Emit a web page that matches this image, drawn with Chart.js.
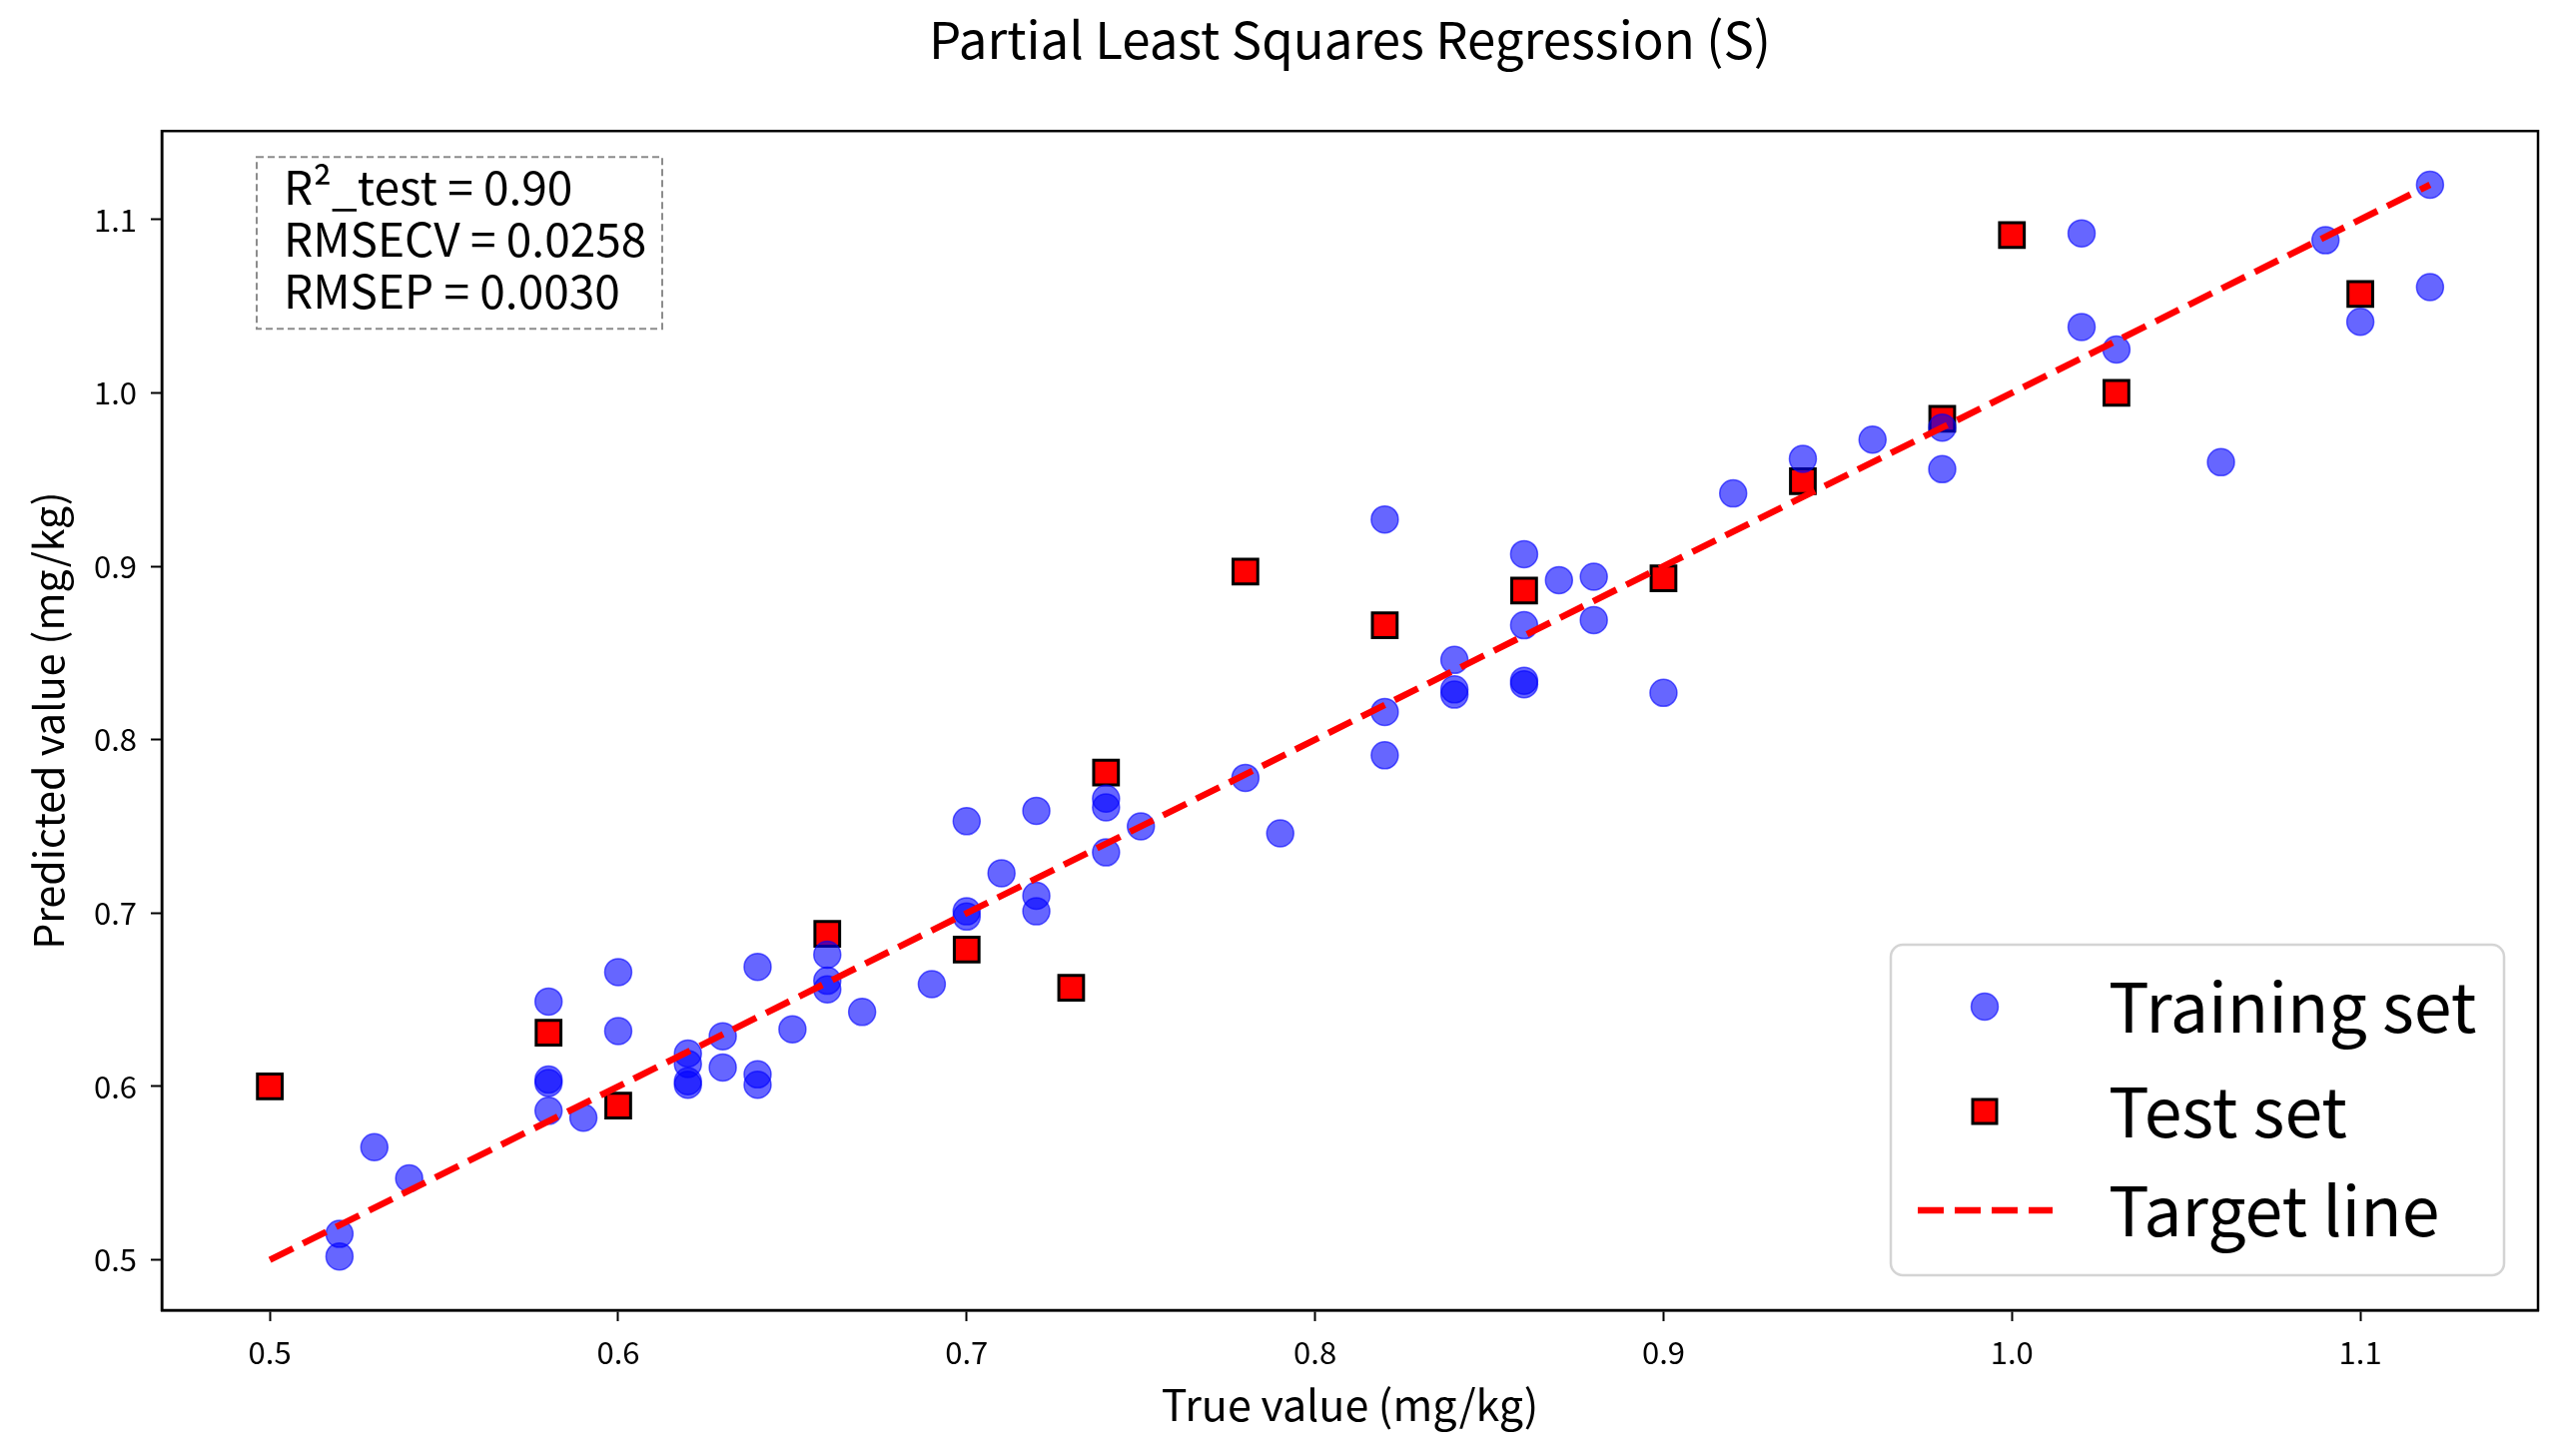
<!DOCTYPE html>
<html>
<head>
<meta charset="utf-8">
<title>Partial Least Squares Regression (S)</title>
<script src="https://cdn.jsdelivr.net/npm/chart.js@4.4.1/dist/chart.umd.min.js"></script>
<style>
  html, body { margin: 0; padding: 0; background: #fff; }
  #wrap { width: 2566px; height: 1458px; }
</style>
</head>
<body>
<div id="wrap"><canvas id="plsChart"></canvas></div>
<script>
// values
const trainTrue = [0.52, 0.52, 0.53, 0.54, 0.58, 0.58, 0.58, 0.58, 0.59, 0.60, 0.60,
  0.62, 0.62, 0.62, 0.62, 0.63, 0.63, 0.64, 0.64, 0.64, 0.65, 0.66, 0.66, 0.66, 0.67,
  0.69, 0.70, 0.70, 0.70, 0.71, 0.72, 0.72, 0.72, 0.74, 0.74, 0.74, 0.75, 0.78, 0.79,
  0.82, 0.82, 0.82, 0.84, 0.84, 0.84, 0.86, 0.86, 0.86, 0.86, 0.87, 0.88, 0.88, 0.90,
  0.92, 0.94, 0.96, 0.98, 0.98, 1.02, 1.02, 1.03, 1.06, 1.09, 1.10, 1.12, 1.12];
const trainPred = [0.515, 0.502, 0.565, 0.547, 0.649, 0.604, 0.602, 0.586, 0.582, 0.666, 0.632,
  0.619, 0.613, 0.603, 0.601, 0.629, 0.611, 0.669, 0.607, 0.601, 0.633, 0.676, 0.661, 0.656, 0.643,
  0.659, 0.753, 0.701, 0.698, 0.723, 0.759, 0.710, 0.701, 0.766, 0.761, 0.735, 0.750, 0.778, 0.746,
  0.927, 0.816, 0.791, 0.846, 0.829, 0.826, 0.907, 0.866, 0.834, 0.832, 0.892, 0.894, 0.869, 0.827,
  0.942, 0.962, 0.973, 0.980, 0.956, 1.092, 1.038, 1.025, 0.960, 1.088, 1.041, 1.120, 1.061];
const testTrue = [0.50, 0.58, 0.60, 0.66, 0.70, 0.73, 0.74, 0.78, 0.82, 0.86, 0.90, 0.94, 0.98, 1.00, 1.03, 1.10];
const testPred = [0.600, 0.631, 0.589, 0.688, 0.679, 0.657, 0.781, 0.897, 0.866, 0.886, 0.893, 0.949, 0.985, 1.091, 1.000, 1.057];
const targetEnds = [0.50, 1.12];
const axisTicks = [0.5, 0.6, 0.7, 0.8, 0.9, 1.0, 1.1];
const statLines = ['R\u00b2_test = 0.90', 'RMSECV = 0.0258', 'RMSEP = 0.0030'];
const seriesNames = ['Training set', 'Test set', 'Target line'];

const FONT = '"Noto Sans CJK SC", "Noto Sans", sans-serif';

const toPoints = (xs, ys) => xs.map((x, i) => ({ x, y: ys[i] }));

// frame, dashed stats box in the top-left corner and legend in the bottom-right
const overlayPlugin = {
  id: 'overlay',
  afterDraw(chart) {
    const { ctx, chartArea: a } = chart;
    ctx.save();

    ctx.strokeStyle = '#000';
    ctx.lineWidth = 2.5;
    ctx.setLineDash([]);
    ctx.strokeRect(a.left, a.top, a.right - a.left, a.bottom - a.top);

    // stats box
    const bx = a.left + 95, by = a.top + 26, bw = 406, bh = 172;
    ctx.fillStyle = 'rgba(255,255,255,0.8)';
    ctx.fillRect(bx, by, bw, bh);
    ctx.setLineDash([7, 4]);
    ctx.strokeStyle = '#8c8c8c';
    ctx.lineWidth = 2;
    ctx.strokeRect(bx, by, bw, bh);
    ctx.setLineDash([]);
    ctx.fillStyle = '#000';
    ctx.font = '46px ' + FONT;
    ctx.textBaseline = 'alphabetic';
    ctx.textAlign = 'left';
    statLines.forEach((t, i) => ctx.fillText(t, bx + 27, by + 48 + i * 52));

    // legend
    const lw = 614, lh = 331;
    const lx = a.right - 34 - lw, ly = a.bottom - 35 - lh;
    ctx.fillStyle = 'rgba(255,255,255,0.8)';
    ctx.strokeStyle = '#d4d4d4';
    ctx.lineWidth = 2.5;
    ctx.beginPath();
    ctx.roundRect(lx, ly, lw, lh, 12);
    ctx.fill();
    ctx.stroke();

    const mx = lx + 94;
    const rows = [ly + 62, ly + 167, ly + 266];
    const ds = chart.data.datasets;
    // training marker
    ctx.beginPath();
    ctx.arc(mx, rows[0], 13.5, 0, Math.PI * 2);
    ctx.fillStyle = ds[1].backgroundColor;
    ctx.fill();
    ctx.lineWidth = ds[1].borderWidth;
    ctx.strokeStyle = ds[1].borderColor;
    ctx.stroke();
    // test marker
    ctx.fillStyle = ds[2].backgroundColor;
    ctx.fillRect(mx - 12, rows[1] - 12, 24, 24);
    ctx.lineWidth = ds[2].borderWidth;
    ctx.strokeStyle = ds[2].borderColor;
    ctx.strokeRect(mx - 12, rows[1] - 12, 24, 24);
    // target line
    ctx.beginPath();
    ctx.setLineDash(ds[0].borderDash);
    ctx.lineWidth = ds[0].borderWidth;
    ctx.strokeStyle = ds[0].borderColor;
    ctx.moveTo(mx - 67, rows[2]);
    ctx.lineTo(mx + 68, rows[2]);
    ctx.stroke();
    ctx.setLineDash([]);

    ctx.fillStyle = '#000';
    ctx.font = '68px ' + FONT;
    ctx.textBaseline = 'middle';
    seriesNames.forEach((n, i) => ctx.fillText(n, lx + 218, rows[i]));
    ctx.restore();
  }
};

new Chart(document.getElementById('plsChart'), {
  type: 'scatter',
  data: {
    datasets: [
      {
        label: seriesNames[2],
        type: 'line',
        data: toPoints(targetEnds, targetEnds),
        borderColor: '#ff0000',
        borderWidth: 6.5,
        borderDash: [26, 11],
        pointRadius: 0,
        fill: false,
        showLine: true
      },
      {
        label: seriesNames[0],
        data: toPoints(trainTrue, trainPred),
        backgroundColor: 'rgba(0,0,255,0.6)',
        borderColor: 'rgba(0,0,255,0.6)',
        borderWidth: 1.5,
        pointRadius: 13.5,
        pointStyle: 'circle'
      },
      {
        label: seriesNames[1],
        data: toPoints(testTrue, testPred),
        backgroundColor: '#ff0000',
        borderColor: '#000000',
        borderWidth: 3,
        pointRadius: 17.5,
        pointStyle: 'rect'
      }
    ]
  },
  options: {
    responsive: true,
    maintainAspectRatio: false,
    animation: false,
    layout: { padding: { left: 0, right: 25, top: 0, bottom: 0 } },
    plugins: {
      legend: { display: false },
      tooltip: { enabled: false },
      title: {
        display: true,
        fullSize: false,
        text: 'Partial Least Squares Regression (S)',
        color: '#000',
        font: { family: FONT, size: 51, weight: 'normal' },
        padding: { top: 9, bottom: 61 }
      }
    },
    scales: {
      x: {
        type: 'linear',
        min: 0.469,
        max: 1.151,
        afterFit: s => { s.height = 146; },
        afterBuildTicks: s => { s.ticks = axisTicks.map(v => ({ value: v })); },
        ticks: {
          color: '#000',
          font: { family: FONT, size: 31 },
          padding: 13,
          callback: v => v.toFixed(1)
        },
        grid: { display: true, drawOnChartArea: false, drawTicks: true, tickLength: 11, tickWidth: 2, tickColor: '#000' },
        border: { display: true, color: '#000', width: 2.5 },
        title: {
          display: true,
          text: 'True value (mg/kg)',
          color: '#000',
          font: { family: FONT, size: 43 },
          padding: { top: 0, bottom: 26 }
        }
      },
      y: {
        type: 'linear',
        min: 0.471,
        max: 1.151,
        afterFit: s => { s.width = 162; },
        afterBuildTicks: s => { s.ticks = axisTicks.map(v => ({ value: v })); },
        ticks: {
          color: '#000',
          font: { family: FONT, size: 31 },
          padding: 14,
          callback: v => v.toFixed(1)
        },
        grid: { display: true, drawOnChartArea: false, drawTicks: true, tickLength: 11, tickWidth: 2, tickColor: '#000' },
        border: { display: true, color: '#000', width: 2.5 },
        title: {
          display: true,
          text: 'Predicted value (mg/kg)',
          color: '#000',
          font: { family: FONT, size: 41 },
          padding: { top: 24, bottom: 0 }
        }
      }
    }
  },
  plugins: [overlayPlugin]
});
</script>
</body>
</html>
